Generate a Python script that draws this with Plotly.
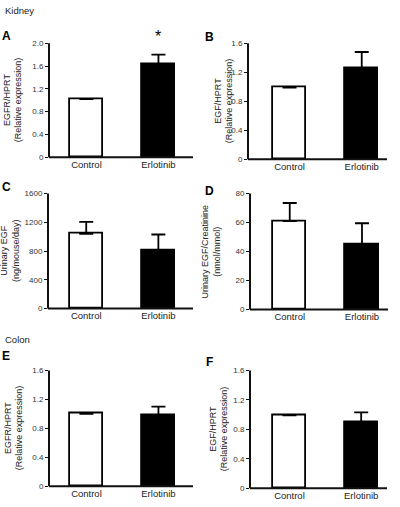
import plotly.graph_objects as go

W, H = 400, 507
FONT = "Liberation Sans, Arial, sans-serif"

categories = ["Control", "Erlotinib"]

# Panel values (mean) and upper SEM
a_vals = [1.02, 1.64]; a_err = [0, 0.16]
b_vals = [0.99, 1.26]; b_err = [0, 0.22]
c_vals = [1040, 805]; c_err = [165, 225]
d_vals = [61, 45]; d_err = [12.5, 14.5]
e_vals = [1.0, 0.98]; e_err = [0, 0.12]
f_vals = [0.99, 0.89]; f_err = [0, 0.14]

a_ticks = [0, 0.4, 0.8, 1.2, 1.6, 2.0]; a_tick_text = ["0", "0.4", "0.8", "1.2", "1.6", "2.0"]
rel_ticks = [0, 0.4, 0.8, 1.2, 1.6]; rel_tick_text = ["0", "0.4", "0.8", "1.2", "1.6"]
c_ticks = [0, 400, 800, 1200, 1600]; c_tick_text = ["0", "400", "800", "1200", "1600"]
d_ticks = [0, 20, 40, 60, 80]; d_tick_text = ["0", "20", "40", "60", "80"]

panels = [
    # letter, vals, errs, tickvals, ticktext, ymax, title, (x0,x1,ytop,ybot px), xrange, title x px, letter pos
    ("A", a_vals, a_err, a_ticks, a_tick_text, 2.0, "EGFR/HPRT<br>(Relative expression)",
     (49, 193, 40, 156), [-0.52, 1.48], 13, (6, 33)),
    ("B", b_vals, b_err, rel_ticks, rel_tick_text, 1.6, "EGF/HPRT<br>(Relative expression)",
     (248, 387, 40, 158), [-0.575, 1.35], 224, (209, 34)),
    ("C", c_vals, c_err, c_ticks, c_tick_text, 1600, "Urinary EGF<br>(ng/mouse/day)",
     (48, 193, 193, 310), [-0.53, 1.48], 10, (6, 186)),
    ("D", d_vals, d_err, d_ticks, d_tick_text, 80, "Urinary EGF/Creatinine<br>(nmol/mmol)",
     (250, 388, 193, 311), [-0.55, 1.36], 211, (209, 190)),
    ("E", e_vals, e_err, rel_ticks, rel_tick_text, 1.6, "EGFR/HPRT<br>(Relative expression)",
     (49, 193, 373, 491), [-0.52, 1.48], 14, (6, 358)),
    ("F", f_vals, f_err, rel_ticks, rel_tick_text, 1.6, "EGF/HPRT<br>(Relative expression)",
     (250, 387, 373, 493), [-0.55, 1.36], 219, (209, 364)),
]

fig = go.Figure()
annotations = []
shapes = []
layout = {}

for i, (letter, vals, errs, tv, tt, ymax, title, box, xr, tx, lpos) in enumerate(panels, start=1):
    xa = "x" if i == 1 else f"x{i}"
    ya = "y" if i == 1 else f"y{i}"
    x0, x1, yt, yb = box
    fig.add_trace(go.Bar(
        x=categories, y=vals, xaxis=xa, yaxis=ya, width=0.46,
        marker=dict(color=["white", "black"], line=dict(color="black", width=1.8)),
        error_y=dict(type="data", symmetric=False, array=errs, arrayminus=[0, 0],
                     color="black", thickness=1.8, width=7),
        showlegend=False, hoverinfo="skip",
    ))
    layout[f"xaxis{'' if i == 1 else i}"] = dict(
        domain=[x0 / W, x1 / W], anchor=ya, range=xr, type="category",
        showline=False, ticks="",
        tickfont=dict(family=FONT, size=9.5, color="#222"), showgrid=False, zeroline=False,
        fixedrange=True,
    )
    layout[f"yaxis{'' if i == 1 else i}"] = dict(
        domain=[1 - yb / H, 1 - yt / H], anchor=xa, range=[0, ymax],
        tickvals=tv, ticktext=tt, showline=False,
        ticks="outside", ticklen=3, tickwidth=1.3, tickcolor="#111",
        tickfont=dict(family=FONT, size=8, color="#333"), showgrid=False, zeroline=False,
        fixedrange=True,
    )
    # axis lines
    shapes.append(dict(type="line", xref=f"{xa} domain", yref=f"{ya} domain",
                       x0=0, x1=1, y0=0, y1=0, line=dict(color="#111", width=2), layer="above"))
    shapes.append(dict(type="line", xref=f"{xa} domain", yref=f"{ya} domain",
                       x0=0, x1=0, y0=0, y1=1, line=dict(color="#111", width=2), layer="above"))
    annotations.append(dict(
        text=title, x=tx / W, y=1 - ((yt + yb) / 2) / H, xref="paper", yref="paper",
        textangle=-90, showarrow=False, xanchor="center", yanchor="middle",
        font=dict(family=FONT, size=9, color="#222"),
    ))
    annotations.append(dict(
        text=f"<b>{letter}</b>", x=lpos[0] / W, y=1 - lpos[1] / H, xref="paper", yref="paper",
        showarrow=False, xanchor="center", yanchor="middle",
        font=dict(family=FONT, size=12, color="black"),
    ))

# significance marker on panel A
annotations.append(dict(
    text="*", x="Erlotinib", y=a_vals[1] + a_err[1], xref="x", yref="y",
    showarrow=False, yanchor="bottom", yshift=8,
    font=dict(family=FONT, size=16, color="black"),
))

annotations.append(dict(text="Kidney", x=3 / W, y=1 - 7 / H, xref="paper", yref="paper",
                        showarrow=False, xanchor="left", yanchor="middle",
                        font=dict(family=FONT, size=9.5, color="#222")))
annotations.append(dict(text="Colon", x=3 / W, y=1 - 342 / H, xref="paper", yref="paper",
                        showarrow=False, xanchor="left", yanchor="middle",
                        font=dict(family=FONT, size=9.5, color="#222")))

fig.update_layout(
    width=W, height=H, margin=dict(l=0, r=0, t=0, b=0),
    paper_bgcolor="white", plot_bgcolor="white",
    annotations=annotations, shapes=shapes, bargap=0, **layout,
)

fig.write_html("out.html", config={"displayModeBar": False},
               post_script="document.body.style.margin='0';document.body.style.overflow='hidden';")
